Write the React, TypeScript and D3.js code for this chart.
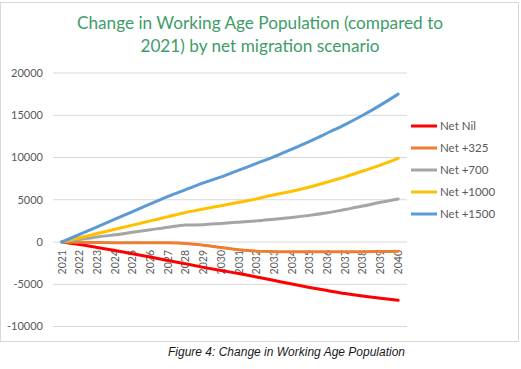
import * as d3 from 'd3';
import * as React from 'react';

const years = [
  '2021', '2022', '2023', '2024', '2025', '2026', '2027', '2028', '2029', '2030',
  '2031', '2032', '2033', '2034', '2035', '2036', '2037', '2038', '2039', '2040',
];

const netNil = [0, -300, -650, -1000, -1380, -1780, -2180, -2590, -3000, -3380, -3730, -4140, -4560, -4980, -5380, -5750, -6100, -6400, -6660, -6900];
const net325 = [0, -40, -70, -80, -80, -80, -100, -180, -380, -650, -920, -1080, -1140, -1160, -1160, -1160, -1150, -1140, -1120, -1100];
const net700 = [0, 300, 600, 850, 1150, 1450, 1750, 2000, 2050, 2200, 2350, 2500, 2700, 2900, 3150, 3450, 3850, 4250, 4700, 5100];
const net1000 = [0, 500, 1000, 1500, 2000, 2500, 3000, 3500, 3900, 4300, 4700, 5100, 5600, 6000, 6500, 7100, 7700, 8400, 9100, 9900];
const net1500 = [0, 900, 1800, 2700, 3600, 4500, 5400, 6200, 7000, 7700, 8500, 9300, 10100, 11000, 11900, 12900, 13900, 15000, 16200, 17500];

const seriesNames = ['Net Nil', 'Net +325', 'Net +700', 'Net +1000', 'Net +1500'];
const seriesValues = [netNil, net325, net700, net1000, net1500];
const seriesColors = ['#ff0000', '#ed7d31', '#a5a5a5', '#ffc000', '#5b9bd5'];

const yTicks = [-10000, -5000, 0, 5000, 10000, 15000, 20000];

const width = 521;
const height = 369;
const font = 'Lato, "Open Sans", sans-serif';

export default function App() {
  const x = d3.scalePoint<string>().domain(years).range([53, 407]).padding(0.5);
  const y = d3.scaleLinear().domain([-10000, 20000]).range([326.5, 73]);

  const line = d3
    .line<number>()
    .x((_, i) => x(years[i]) as number)
    .y((d) => y(d))
    .curve(d3.curveMonotoneX);

  return (
    <svg
      width={width}
      height={height}
      style={{ position: 'absolute', left: 0, top: 0, background: '#fff' }}
    >
      <rect x={0.5} y={2.5} width={518} height={339} fill="#fff" stroke="#d9d9d9" />

      <text x={260} y={29} textAnchor="middle" fill="#3e9c68" fontFamily={font} fontSize={17.2}>
        Change in Working Age Population (compared to
      </text>
      <text x={260} y={52} textAnchor="middle" fill="#3e9c68" fontFamily={font} fontSize={17.2}>
        2021) by net migration scenario
      </text>

      {yTicks.map((t) => (
        <g key={t}>
          <line x1={53} x2={407} y1={y(t)} y2={y(t)} stroke="#d9d9d9" strokeWidth={1} />
          <text
            x={43}
            y={y(t)}
            dy="0.35em"
            textAnchor="end"
            fill="#595959"
            fontFamily={font}
            fontSize={11}
          >
            {t}
          </text>
        </g>
      ))}

      {years.map((yr) => (
        <text
          key={yr}
          transform={`translate(${x(yr)},250) rotate(-90)`}
          dy="0.35em"
          textAnchor="end"
          fill="#595959"
          fontFamily={font}
          fontSize={10.5}
        >
          {yr}
        </text>
      ))}

      {seriesValues.map((vals, i) => (
        <path
          key={seriesNames[i]}
          d={line(vals) ?? ''}
          fill="none"
          stroke={seriesColors[i]}
          strokeWidth={3}
          strokeLinecap="round"
        />
      ))}

      {seriesNames.map((name, i) => (
        <g key={name} transform={`translate(411,${126 + i * 22})`}>
          <line x1={0} x2={26} y1={0} y2={0} stroke={seriesColors[i]} strokeWidth={3} />
          <text x={29} dy="0.35em" fill="#595959" fontFamily={font} fontSize={11.5}>
            {name}
          </text>
        </g>
      ))}

      <text
        x={168}
        y={356}
        fill="#1a1a1a"
        fontFamily='"Liberation Sans", Arial, sans-serif'
        fontStyle="italic"
        fontSize={12}
      >
        Figure 4: Change in Working Age Population
      </text>
    </svg>
  );
}
